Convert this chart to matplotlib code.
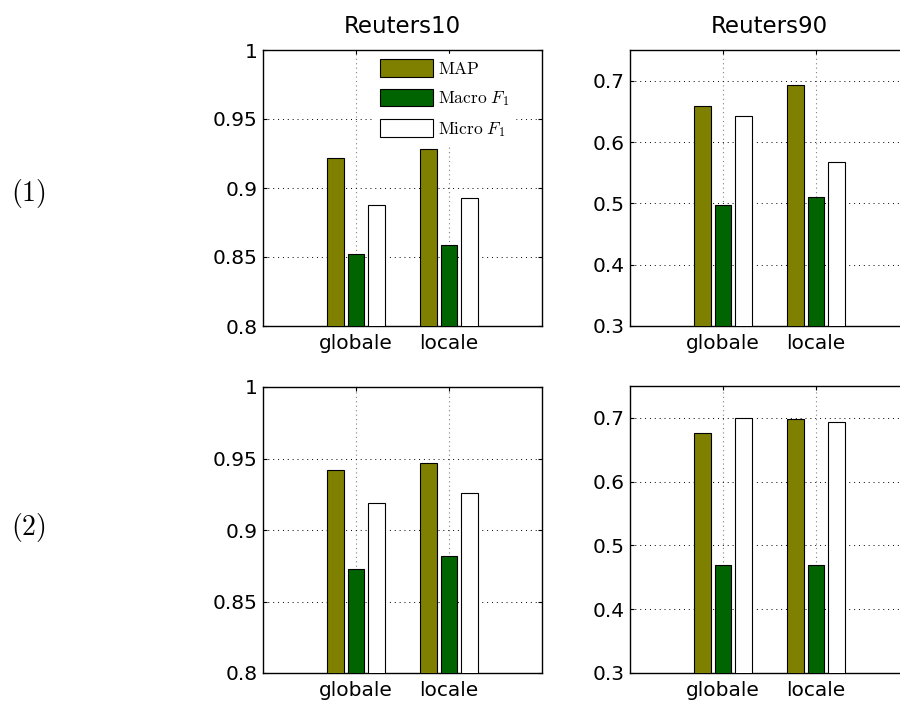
import numpy as np
import matplotlib
matplotlib.use('Agg')
import matplotlib.pyplot as plt

plt.rcParams['font.family'] = ['DejaVu Sans']
plt.rcParams['mathtext.fontset'] = 'cm'

groups = ['globale', 'locale']
series = [r'$\mathrm{MAP}$', r'$\mathrm{Macro}\ F_1$', r'$\mathrm{Micro}\ F_1$']
colors = ['#808000', '#006400', '#ffffff']

# rows: (1), (2); columns: Reuters10, Reuters90
r10_row1 = {'MAP': [0.922, 0.928], 'Macro': [0.852, 0.859], 'Micro': [0.888, 0.893]}
r90_row1 = {'MAP': [0.659, 0.693], 'Macro': [0.497, 0.510], 'Micro': [0.643, 0.567]}
r10_row2 = {'MAP': [0.942, 0.947], 'Macro': [0.873, 0.882], 'Micro': [0.919, 0.926]}
r90_row2 = {'MAP': [0.676, 0.699], 'Macro': [0.470, 0.469], 'Micro': [0.700, 0.694]}

titles = ['Reuters10', 'Reuters90']
row_labels = [r'$\mathrm{(1)}$', r'$\mathrm{(2)}$']

W, H = 900, 704
fig = plt.figure(figsize=(W / 100, H / 100), dpi=100)

def box(left, right, top, bottom):
    return [left / W, (H - bottom) / H, (right - left) / W, (bottom - top) / H]

panels = [
    (box(263, 542, 50, 326), r10_row1, (0.8, 1.0), [0.8, 0.85, 0.9, 0.95, 1.0], ['0.8', '0.85', '0.9', '0.95', '1']),
    (box(630, 909, 50, 326), r90_row1, (0.3, 0.75), [0.3, 0.4, 0.5, 0.6, 0.7], ['0.3', '0.4', '0.5', '0.6', '0.7']),
    (box(263, 542, 387, 673), r10_row2, (0.8, 1.0), [0.8, 0.85, 0.9, 0.95, 1.0], ['0.8', '0.85', '0.9', '0.95', '1']),
    (box(630, 909, 386, 673), r90_row2, (0.3, 0.75), [0.3, 0.4, 0.5, 0.6, 0.7], ['0.3', '0.4', '0.5', '0.6', '0.7']),
]

x = np.arange(1, len(groups) + 1)
offsets = [-0.222, 0.0, 0.222]
bw = 0.178

for i, (pos, data, ylim, yt, ytl) in enumerate(panels):
    ax = fig.add_axes(pos)
    vals = [data['MAP'], data['Macro'], data['Micro']]
    for k in range(3):
        ax.bar(x + offsets[k], vals[k], bw, color=colors[k], edgecolor='black',
               linewidth=0.8, label=series[k], zorder=3)
    ax.set_xlim(0, 3)
    ax.set_ylim(*ylim)
    ax.set_xticks(x)
    ax.set_xticklabels(groups, fontsize=14.5)
    ax.set_yticks(yt)
    ax.set_yticklabels(ytl, fontsize=14.5)
    ax.tick_params(direction='in', top=True, right=True, length=3)
    ax.tick_params(axis='x', pad=6)
    ax.tick_params(axis='y', pad=4)
    ax.yaxis.grid(True, linestyle=(0, (1, 4)), color='black', linewidth=0.7)
    ax.xaxis.grid(True, linestyle=(0, (1, 3)), color='gray', linewidth=0.8)
    ax.set_axisbelow(True)
    for s in ax.spines.values():
        s.set_linewidth(1.0)
    if i < 2:
        ax.set_title(titles[i], fontsize=16.5, pad=12)
    if i == 0:
        ax.legend(loc='upper left', bbox_to_anchor=(0.401, 0.986), borderaxespad=0,
                  fontsize=12.5, handlelength=3.05, handleheight=1.2,
                  labelspacing=0.62, handletextpad=0.3, borderpad=0.3,
                  fancybox=False, framealpha=1, edgecolor='white')

fig.text(28 / W, 1 - 193 / H, row_labels[0], fontsize=20, ha='center', va='center')
fig.text(28 / W, 1 - 527 / H, row_labels[1], fontsize=20, ha='center', va='center')

fig.savefig('out.png', dpi=100)
